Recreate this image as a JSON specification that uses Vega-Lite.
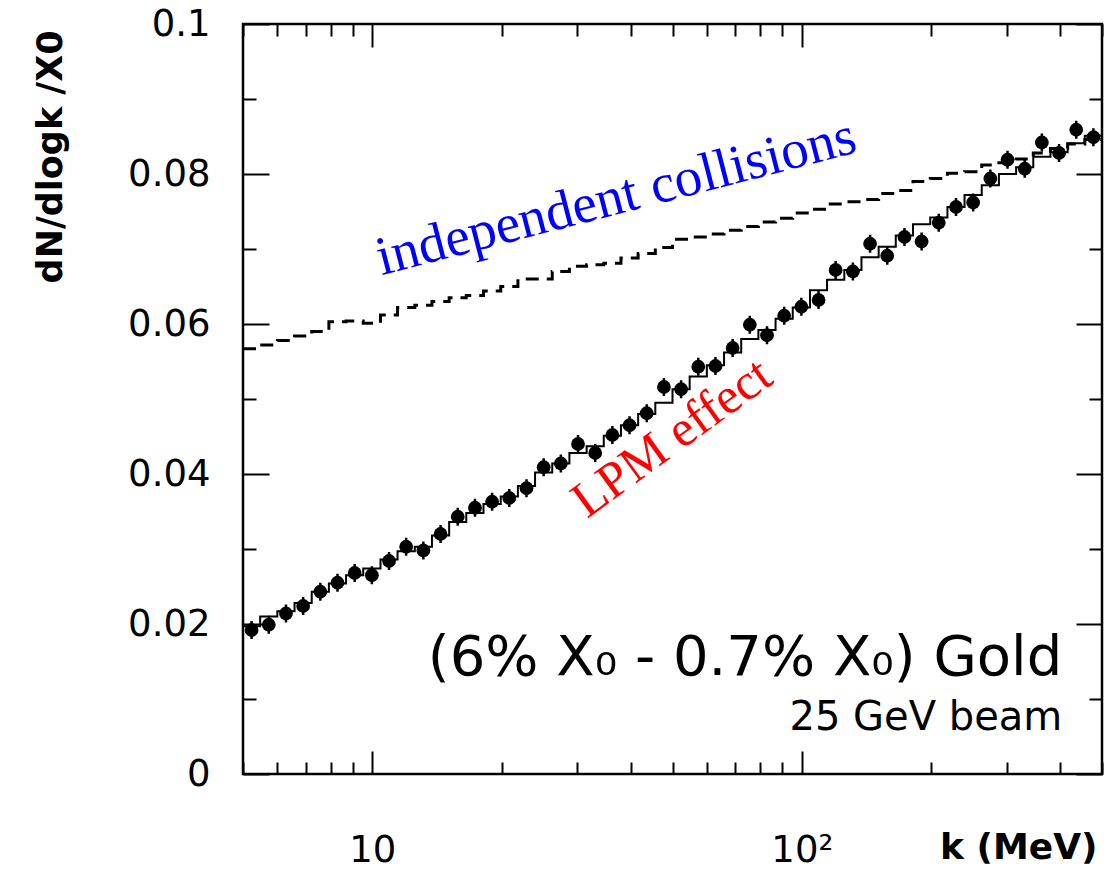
{
  "$schema": "https://vega.github.io/schema/vega-lite/v6.json",
  "width": 859,
  "height": 750,
  "autosize": "none",
  "padding": {"left": 243, "top": 24, "right": 14, "bottom": 96},
  "background": "white",
  "config": {"view": {"stroke": "black", "strokeWidth": 2.5}, "font": "DejaVu Sans"},
  "datasets": {
    "bins": [
      {"lo": 5.000, "k": 5.236, "d": 0.0192, "e": 0.0012, "mc": 0.0197, "bh": 0.0567},
      {"lo": 5.482, "k": 5.741, "d": 0.0199, "e": 0.0012, "mc": 0.0210, "bh": 0.0572},
      {"lo": 6.011, "k": 6.295, "d": 0.0214, "e": 0.0012, "mc": 0.0217, "bh": 0.0578},
      {"lo": 6.591, "k": 6.902, "d": 0.0224, "e": 0.0012, "mc": 0.0228, "bh": 0.0584},
      {"lo": 7.227, "k": 7.568, "d": 0.0243, "e": 0.0012, "mc": 0.0243, "bh": 0.0590},
      {"lo": 7.924, "k": 8.299, "d": 0.0255, "e": 0.0012, "mc": 0.0254, "bh": 0.0603},
      {"lo": 8.688, "k": 9.099, "d": 0.0268, "e": 0.0012, "mc": 0.0265, "bh": 0.0604},
      {"lo": 9.526, "k": 9.977, "d": 0.0265, "e": 0.0012, "mc": 0.0274, "bh": 0.0601},
      {"lo": 10.45, "k": 10.94, "d": 0.0284, "e": 0.0012, "mc": 0.0286, "bh": 0.0612},
      {"lo": 11.45, "k": 11.99, "d": 0.0303, "e": 0.0012, "mc": 0.0297, "bh": 0.0622},
      {"lo": 12.56, "k": 13.15, "d": 0.0298, "e": 0.0012, "mc": 0.0303, "bh": 0.0625},
      {"lo": 13.77, "k": 14.42, "d": 0.0320, "e": 0.0012, "mc": 0.0318, "bh": 0.0630},
      {"lo": 15.10, "k": 15.81, "d": 0.0343, "e": 0.0012, "mc": 0.0336, "bh": 0.0635},
      {"lo": 16.55, "k": 17.34, "d": 0.0355, "e": 0.0012, "mc": 0.0348, "bh": 0.0638},
      {"lo": 18.15, "k": 19.01, "d": 0.0363, "e": 0.0012, "mc": 0.0360, "bh": 0.0644},
      {"lo": 19.91, "k": 20.84, "d": 0.0368, "e": 0.0012, "mc": 0.0370, "bh": 0.0650},
      {"lo": 21.83, "k": 22.86, "d": 0.0381, "e": 0.0012, "mc": 0.0384, "bh": 0.0660},
      {"lo": 23.93, "k": 25.06, "d": 0.0409, "e": 0.0012, "mc": 0.0402, "bh": 0.0660},
      {"lo": 26.24, "k": 27.48, "d": 0.0414, "e": 0.0012, "mc": 0.0414, "bh": 0.0670},
      {"lo": 28.77, "k": 30.13, "d": 0.0440, "e": 0.0012, "mc": 0.0428, "bh": 0.0677},
      {"lo": 31.55, "k": 33.04, "d": 0.0428, "e": 0.0012, "mc": 0.0437, "bh": 0.0679},
      {"lo": 34.59, "k": 36.22, "d": 0.0452, "e": 0.0012, "mc": 0.0451, "bh": 0.0681},
      {"lo": 37.93, "k": 39.72, "d": 0.0465, "e": 0.0012, "mc": 0.0465, "bh": 0.0688},
      {"lo": 41.59, "k": 43.55, "d": 0.0481, "e": 0.0012, "mc": 0.0480, "bh": 0.0694},
      {"lo": 45.60, "k": 47.75, "d": 0.0516, "e": 0.0012, "mc": 0.0495, "bh": 0.0702},
      {"lo": 50.00, "k": 52.36, "d": 0.0513, "e": 0.0012, "mc": 0.0513, "bh": 0.0713},
      {"lo": 54.82, "k": 57.41, "d": 0.0543, "e": 0.0012, "mc": 0.0530, "bh": 0.0716},
      {"lo": 60.11, "k": 62.95, "d": 0.0544, "e": 0.0012, "mc": 0.0545, "bh": 0.0720},
      {"lo": 65.91, "k": 69.02, "d": 0.0568, "e": 0.0012, "mc": 0.0562, "bh": 0.0725},
      {"lo": 72.27, "k": 75.68, "d": 0.0599, "e": 0.0012, "mc": 0.0580, "bh": 0.0730},
      {"lo": 79.24, "k": 82.99, "d": 0.0585, "e": 0.0012, "mc": 0.0592, "bh": 0.0736},
      {"lo": 86.88, "k": 90.99, "d": 0.0611, "e": 0.0012, "mc": 0.0607, "bh": 0.0741},
      {"lo": 95.26, "k": 99.77, "d": 0.0623, "e": 0.0012, "mc": 0.0622, "bh": 0.0748},
      {"lo": 104.5, "k": 109.4, "d": 0.0632, "e": 0.0012, "mc": 0.0645, "bh": 0.0753},
      {"lo": 114.5, "k": 119.9, "d": 0.0672, "e": 0.0012, "mc": 0.0659, "bh": 0.0760},
      {"lo": 125.6, "k": 131.5, "d": 0.0670, "e": 0.0012, "mc": 0.0672, "bh": 0.0763},
      {"lo": 137.7, "k": 144.2, "d": 0.0707, "e": 0.0012, "mc": 0.0689, "bh": 0.0766},
      {"lo": 151.0, "k": 158.1, "d": 0.0691, "e": 0.0012, "mc": 0.0703, "bh": 0.0774},
      {"lo": 165.5, "k": 173.4, "d": 0.0716, "e": 0.0012, "mc": 0.0718, "bh": 0.0778},
      {"lo": 181.5, "k": 190.1, "d": 0.0710, "e": 0.0012, "mc": 0.0733, "bh": 0.0790},
      {"lo": 199.1, "k": 208.4, "d": 0.0735, "e": 0.0012, "mc": 0.0742, "bh": 0.0794},
      {"lo": 218.3, "k": 228.6, "d": 0.0756, "e": 0.0012, "mc": 0.0756, "bh": 0.0801},
      {"lo": 239.3, "k": 250.6, "d": 0.0762, "e": 0.0012, "mc": 0.0772, "bh": 0.0803},
      {"lo": 262.4, "k": 274.8, "d": 0.0794, "e": 0.0012, "mc": 0.0785, "bh": 0.0812},
      {"lo": 287.7, "k": 301.3, "d": 0.0819, "e": 0.0012, "mc": 0.0800, "bh": 0.0815},
      {"lo": 315.5, "k": 330.4, "d": 0.0807, "e": 0.0012, "mc": 0.0809, "bh": 0.0820},
      {"lo": 345.9, "k": 362.2, "d": 0.0842, "e": 0.0012, "mc": 0.0823, "bh": 0.0828},
      {"lo": 379.3, "k": 397.2, "d": 0.0828, "e": 0.0012, "mc": 0.0829, "bh": 0.0834},
      {"lo": 415.9, "k": 435.5, "d": 0.0859, "e": 0.0012, "mc": 0.0841, "bh": 0.0840},
      {"lo": 456.0, "k": 477.5, "d": 0.0849, "e": 0.0012, "mc": 0.0851, "bh": 0.0846},
      {"lo": 500.0, "mc": 0.0851, "bh": 0.0846}
    ]
  },
  "resolve": {"axis": {"x": "independent", "y": "independent"}},
  "layer": [
    {
      "data": {"name": "bins"},
      "mark": {"type": "line", "interpolate": "step-after", "color": "black", "strokeWidth": 3, "strokeDash": [13, 8]},
      "encoding": {
        "x": {
          "field": "lo", "type": "quantitative",
          "scale": {"type": "log", "domain": [5, 500], "nice": false},
          "axis": {
            "orient": "bottom",
            "values": [5, 6, 7, 8, 9, 10, 20, 30, 40, 50, 60, 70, 80, 90, 100, 200, 300, 400, 500],
            "domain": false, "grid": false,
            "tickColor": "black", "tickWidth": 2,
            "tickSize": {"condition": {"test": "datum.value==10 || datum.value==100", "value": -23}, "value": -12},
            "labelExpr": "datum.value==10 ? '10' : (datum.value==100 ? '10²' : '')",
            "labelFont": "DejaVu Sans", "labelFontSize": 37, "labelColor": "black",
            "labelPadding": 81, "labelOverlap": false, "labelFlush": false,
            "title": "k (MeV)", "titleFont": "DejaVu Sans", "titleFontSize": 36, "titleFontWeight": "bold",
            "titleColor": "black", "titleAnchor": "end", "titleAlign": "right", "titleBaseline": "alphabetic",
            "titleX": 854, "titleY": 84
          }
        },
        "y": {
          "field": "bh", "type": "quantitative",
          "scale": {"domain": [0, 0.1], "nice": false, "zero": false},
          "axis": {
            "orient": "left",
            "values": [0, 0.01, 0.02, 0.03, 0.04, 0.05, 0.06, 0.07, 0.08, 0.09, 0.1],
            "domain": false, "grid": false,
            "tickColor": "black", "tickWidth": 2,
            "tickSize": {"condition": {"test": "round(datum.value*100)%2==0", "value": -26}, "value": -13},
            "labelExpr": "round(datum.value*100)%2==0 ? format(datum.value, '.2~f') : ''",
            "labelFont": "DejaVu Sans", "labelFontSize": 37, "labelColor": "black",
            "labelPadding": 59, "labelOverlap": false, "labelFlush": false,
            "title": "dN/dlogk /X0", "titleFont": "DejaVu Sans", "titleFontSize": 35, "titleFontWeight": "bold",
            "titleColor": "black", "titleAnchor": "end", "titleAlign": "right", "titleBaseline": "middle",
            "titleAngle": -90, "titleX": -193, "titleY": 6
          }
        }
      }
    },
    {
      "data": {"name": "bins"},
      "mark": {"type": "line", "interpolate": "step-after", "color": "black", "strokeWidth": 2},
      "encoding": {
        "x": {
          "field": "lo", "type": "quantitative",
          "scale": {"type": "log", "domain": [5, 500], "nice": false},
          "axis": {
            "orient": "top",
            "values": [5, 6, 7, 8, 9, 10, 20, 30, 40, 50, 60, 70, 80, 90, 100, 200, 300, 400, 500],
            "domain": false, "grid": false, "labels": false, "title": null,
            "tickColor": "black", "tickWidth": 2,
            "tickSize": {"condition": {"test": "datum.value==10 || datum.value==100", "value": -23}, "value": -12}
          }
        },
        "y": {
          "field": "mc", "type": "quantitative",
          "scale": {"domain": [0, 0.1], "nice": false, "zero": false},
          "axis": {
            "orient": "right",
            "values": [0, 0.01, 0.02, 0.03, 0.04, 0.05, 0.06, 0.07, 0.08, 0.09, 0.1],
            "domain": false, "grid": false, "labels": false, "title": null,
            "tickColor": "black", "tickWidth": 2,
            "tickSize": {"condition": {"test": "round(datum.value*100)%2==0", "value": -26}, "value": -13}
          }
        }
      }
    },
    {
      "data": {"name": "bins"},
      "transform": [{"filter": "isValid(datum.d)"}],
      "mark": {"type": "errorbar", "color": "black", "thickness": 2.5},
      "encoding": {
        "x": {"field": "k", "type": "quantitative", "scale": {"type": "log", "domain": [5, 500], "nice": false}, "axis": null},
        "y": {"field": "d", "type": "quantitative", "scale": {"domain": [0, 0.1], "nice": false, "zero": false}, "axis": null},
        "yError": {"field": "e"}
      }
    },
    {
      "data": {"name": "bins"},
      "transform": [{"filter": "isValid(datum.d)"}],
      "mark": {"type": "point", "shape": "circle", "filled": true, "color": "black", "opacity": 1, "size": 190},
      "encoding": {
        "x": {"field": "k", "type": "quantitative", "scale": {"type": "log", "domain": [5, 500], "nice": false}, "axis": null},
        "y": {"field": "d", "type": "quantitative", "scale": {"domain": [0, 0.1], "nice": false, "zero": false}, "axis": null}
      }
    },
    {
      "data": {"values": [{"k": 10.5, "v": 0.0665, "t": "independent collisions"}]},
      "mark": {"type": "text", "align": "left", "baseline": "alphabetic", "angle": -14.5, "font": "Liberation Serif", "fontSize": 55, "color": "#0000ff"},
      "encoding": {
        "x": {"field": "k", "type": "quantitative", "scale": {"type": "log", "domain": [5, 500], "nice": false}, "axis": null},
        "y": {"field": "v", "type": "quantitative", "scale": {"domain": [0, 0.1], "nice": false, "zero": false}, "axis": null},
        "text": {"field": "t"}
      }
    },
    {
      "data": {"values": [{"k": 31.6, "v": 0.0340, "t": "LPM effect"}]},
      "mark": {"type": "text", "align": "left", "baseline": "alphabetic", "angle": -36, "font": "Liberation Serif", "fontSize": 51, "color": "#ff0000"},
      "encoding": {
        "x": {"field": "k", "type": "quantitative", "scale": {"type": "log", "domain": [5, 500], "nice": false}, "axis": null},
        "y": {"field": "v", "type": "quantitative", "scale": {"domain": [0, 0.1], "nice": false, "zero": false}, "axis": null},
        "text": {"field": "t"}
      }
    },
    {
      "data": {"values": [{"k": 404, "v": 0.0132, "t": "(6% X₀ - 0.7% X₀) Gold"}]},
      "mark": {"type": "text", "align": "right", "baseline": "alphabetic", "font": "DejaVu Sans", "fontSize": 56, "color": "black"},
      "encoding": {
        "x": {"field": "k", "type": "quantitative", "scale": {"type": "log", "domain": [5, 500], "nice": false}, "axis": null},
        "y": {"field": "v", "type": "quantitative", "scale": {"domain": [0, 0.1], "nice": false, "zero": false}, "axis": null},
        "text": {"field": "t"}
      }
    },
    {
      "data": {"values": [{"k": 404, "v": 0.0059, "t": "25 GeV beam"}]},
      "mark": {"type": "text", "align": "right", "baseline": "alphabetic", "font": "DejaVu Sans", "fontSize": 40, "color": "black"},
      "encoding": {
        "x": {"field": "k", "type": "quantitative", "scale": {"type": "log", "domain": [5, 500], "nice": false}, "axis": null},
        "y": {"field": "v", "type": "quantitative", "scale": {"domain": [0, 0.1], "nice": false, "zero": false}, "axis": null},
        "text": {"field": "t"}
      }
    }
  ]
}
